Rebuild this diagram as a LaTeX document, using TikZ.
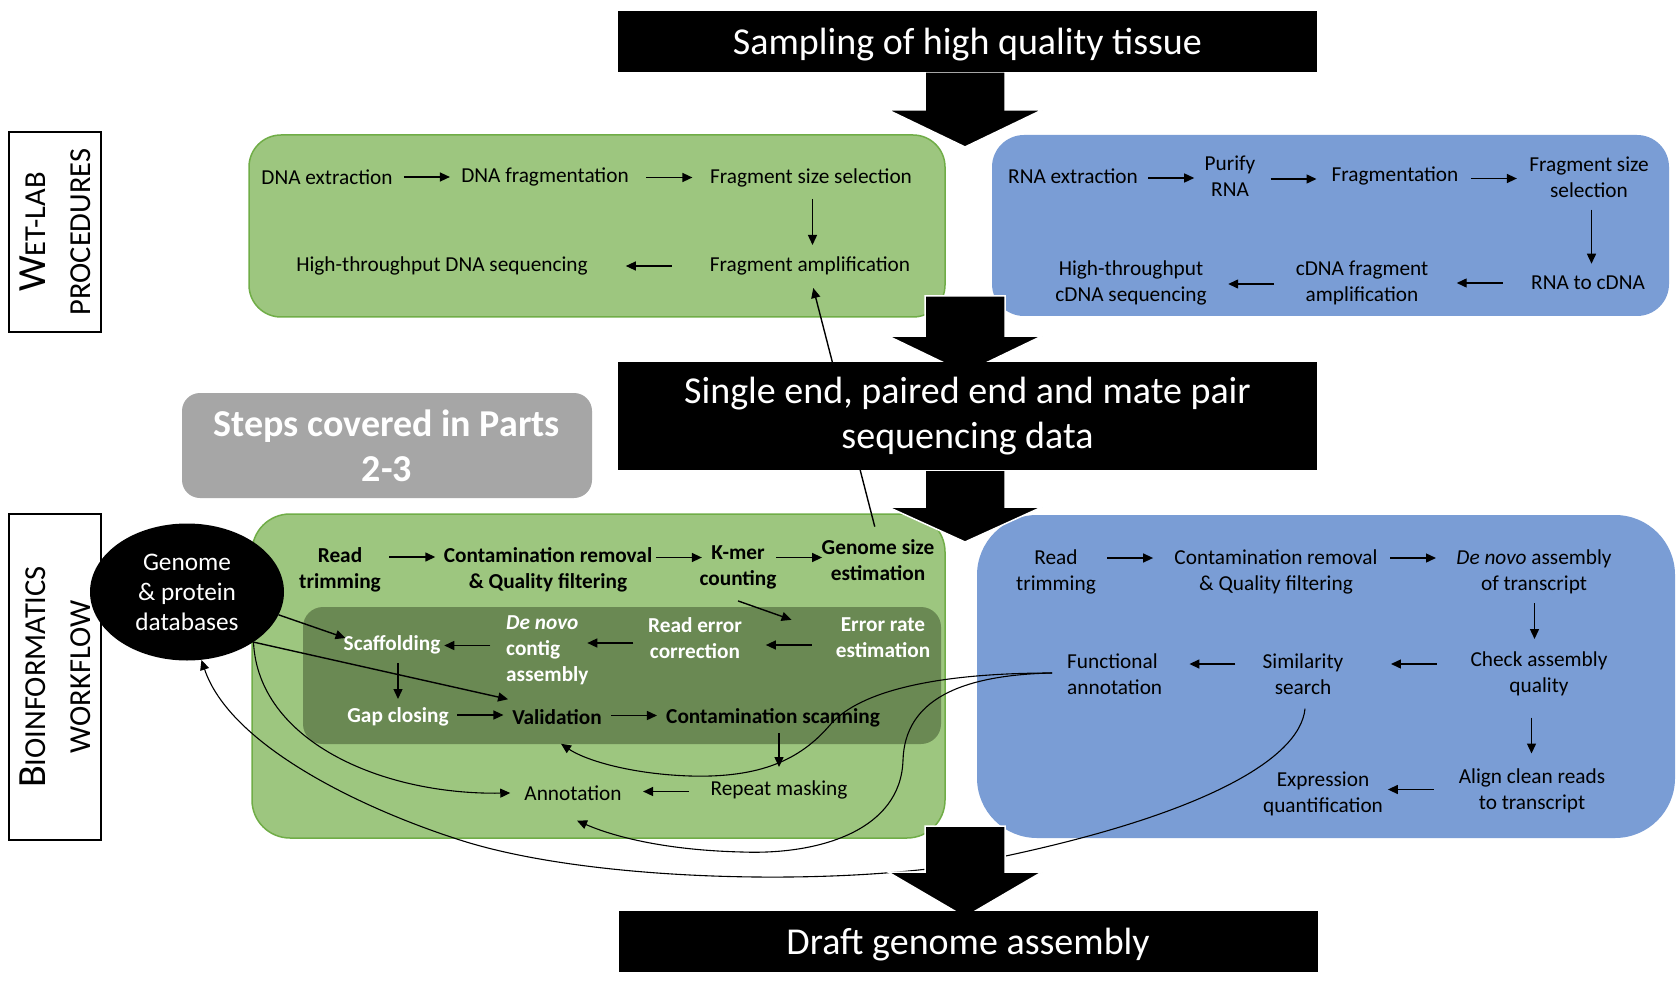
\documentclass[tikz,border=0pt]{standalone}
\usepackage{fontspec}
\setmainfont{Carlito}
\usetikzlibrary{calc,arrows.meta,shapes.geometric}
\definecolor{gfill}{RGB}{157,198,127}
\definecolor{gline}{RGB}{112,173,71}
\definecolor{bfill}{RGB}{122,157,213}
\definecolor{dgreen}{RGB}{106,137,83}
\definecolor{gbox}{RGB}{166,166,166}
\tikzset{
  txt/.style={inner sep=0pt, align=center, font=\fontsize{21.3}{26}\selectfont},
  btxt/.style={inner sep=0pt, align=center, font=\fontsize{21.3}{26}\selectfont\bfseries},
  wtxt/.style={btxt, text=white},
  arr/.style={-{Triangle[length=10pt,width=9pt]}, line width=1.4pt},
  crv/.style={line width=1.1pt},
  crva/.style={crv, -{Triangle[length=10pt,width=9pt]}},
  blk/.style={fill=black, text=white, minimum width=699pt, inner sep=0pt, align=center, font=\fontsize{38}{45}\selectfont},
  barrow/.style={fill=black, draw=white, line width=1.5pt},
  gpanel/.style={fill=gfill, draw=gline, line width=1.5pt},
  bpanel/.style={fill=bfill, draw=none},
  lbl/.style={draw=black, line width=1.5pt, minimum width=92pt, inner sep=0pt},
  lbltxt/.style={rotate=90, align=center, inner sep=0pt, font=\fontsize{30.5}{45}\selectfont},
}
\newcommand\myR[4]{\draw[arr] ($(#1.east)!.5!(#2.west)+(#3-23,#4)$) -- ++(46,0);}
\newcommand\myL[4]{\draw[arr] ($(#1.west)!.5!(#2.east)+(#3+23,#4)$) -- ++(-46,0);}
\newcommand\myD[5]{\draw[arr] ($(#1.south)!.5!(#2.north)+(#3,#4-#5)$) -- ++(0,2*#5);}
\newcommand\blockarrow[4]{\filldraw[barrow] (#1-40,#2) -- (#1+40,#2) -- (#1+40,#3) -- (#1+77,#3) -- (#1,#4) -- (#1-77,#3) -- (#1-40,#3) -- cycle;}
\begin{document}
\begin{tikzpicture}[x=1pt,y=-1pt]
\useasboundingbox (0,0) rectangle (1680,981);
\fill[white] (0,0) rectangle (1680,981);

% side labels
\node[lbl, minimum height=200pt] (L1) at (55,232) {};
\node[lbltxt] at (L1.center) {{\fontsize{40}{45}\selectfont W}ET-LAB\\PROCEDURES};
\node[lbl, minimum height=326pt] (L2) at (55,677) {};
\node[lbltxt] at (L2.center) {{\fontsize{40}{45}\selectfont B}IOINFORMATICS\\WORKFLOW};

% panels
\draw[gpanel, rounded corners=32pt] (249,135) rectangle (945,317);
\fill[bpanel, rounded corners=32pt] (992,135) rectangle (1669,316);
\draw[gpanel, rounded corners=38pt] (252,514) rectangle (945,838);
\fill[dgreen, rounded corners=20pt] (303,607) rectangle (941,744);
\fill[bpanel, rounded corners=60pt] (977,515) rectangle (1675,838);
\node[fill=gbox, rounded corners=18pt, minimum width=410pt, minimum height=105pt, inner sep=0pt, text=white, align=center, font=\fontsize{38}{45}\selectfont\bfseries] (steps) at (387,445.5) {Steps covered in Parts\\2-3};

% database ellipse
\node[ellipse, fill=black, minimum width=194pt, minimum height=137pt, inner sep=0pt, text=white, align=center, font=\fontsize{25.3}{30}\selectfont] (db) at (187,592) {Genome\\\& protein\\databases};

% top green
\node[txt] (n1) at (327,177) {DNA extraction};
\node[txt] (n2) at (545,177) {DNA fragmentation};
\node[txt] (n3) at (811,178) {Fragment size selection};
\node[txt] (n4) at (810,266) {Fragment amplification};
\node[txt] (n5) at (442,266) {High-throughput DNA sequencing};
\myR{n1}{n2}{0}{0}
\myR{n2}{n3}{0}{0}
\myD{n3}{n4}{2}{0}{23}
\myL{n4}{n5}{0}{0}

% top blue
\node[txt] (r1) at (1073,176) {RNA extraction};
\node[txt] (r2) at (1230,176) {Purify\\RNA};
\node[txt] (r3) at (1395,176) {Fragmentation};
\node[txt] (r4) at (1589,177) {Fragment size\\selection};
\node[txt] (r5) at (1588,283) {RNA to cDNA};
\node[txt] (r6) at (1362,283) {cDNA fragment\\amplification};
\node[txt] (r7) at (1131,283) {High-throughput\\cDNA sequencing};
\myR{r1}{r2}{0}{2}
\myR{r2}{r3}{0}{3}
\myR{r3}{r4}{0}{2}
\myD{r4}{r5}{3}{0}{27}
\myL{r5}{r6}{0}{0}
\myL{r6}{r7}{0}{1}

% bottom green
\node[btxt] (g1) at (340,570) {Read\\trimming};
\node[btxt] (g2) at (548,570) {Contamination removal\\\& Quality filtering};
\node[btxt] (g3) at (738,567) {K-mer\\counting};
\node[btxt] (g4) at (878,560) {Genome size\\estimation};
\myR{g1}{g2}{0}{-13}
\myR{g2}{g3}{3}{-11}
\myR{g3}{g4}{0}{-6}
\node[wtxt] (e1) at (883,638) {Error rate\\estimation};
\node[wtxt] (e2) at (695,638) {Read error\\correction};
\node[wtxt, align=left, anchor=west] (e3) at (506,650) {\textit{De novo}\\contig\\assembly};
\node[wtxt] (e4) at (392,645) {Scaffolding};
\node[wtxt] (e5) at (398,717) {Gap closing};
\node[btxt] (e6) at (557,717) {Validation};
\node[btxt] (e7) at (773,718) {Contamination scanning};
\node[txt] (e8) at (779,790) {Repeat masking};
\node[txt] (e9) at (573,793) {Annotation};
\draw[arr] ($(g3.south)+(0,12)$) -- ($(e1.north west)+(-44,2)$);
\myL{e1}{e2}{0}{7}
\myL{e2}{e3}{-8}{-1}
\myL{e3}{e4}{-6}{-2}
\myD{e4}{e5}{3}{0}{18}
\myR{e5}{e6}{0}{-2}
\myR{e6}{e7}{0}{-2}
\myD{e7}{e8}{3}{-4}{17}
\myL{e8}{e9}{0}{0}

% bottom blue
\node[txt] (b1) at (1056,572) {Read\\trimming};
\node[txt] (b2) at (1276,572) {Contamination removal\\\& Quality filtering};
\node[txt] (b3) at (1534,572) {\textit{De novo} assembly\\of transcript};
\node[txt] (b4) at (1539,674) {Check assembly\\quality};
\node[txt] (b5) at (1303,674) {Similarity\\search};
\node[txt, align=left, anchor=west] (b6) at (1067,674) {Functional\\annotation};
\node[txt] (b7) at (1532,791) {Align clean reads\\to transcript};
\node[txt] (b8) at (1323,794) {Expression\\quantification};
\myR{b1}{b2}{-5}{-14}
\myR{b2}{b3}{-4}{-14}
\myD{b3}{b4}{-2}{-2}{18}
\myL{b4}{b5}{7}{-10}
\myL{b5}{b6}{0}{-10}
\myD{b4}{b7}{-4}{3}{18}
\myL{b7}{b8}{-10}{-3}

% database links
\draw[arr] (db.-14) -- ($(e4.west)+(2,-7)$);
\draw[arr] (db.-37) -- ($(e6.north west)+(-4,-10)$);
\draw[crva] (db.-37) .. controls (258,740) and (380,795) .. ($(e9.west)+(-14,0)$);
\draw[crva] ($(b5.south)+(2,14)$) .. controls (1300,760) and (1200,815) .. (1001,857)
   .. controls (870,887) and (600,885) .. (460,840)
   .. controls (360,808) and (230,745) .. (db.-78);
\draw[crva] ($(b6.west)+(-15,-1)$) .. controls (940,673) and (860,690) .. (830,725)
   .. controls (800,760) and (760,778) .. (690,776)
   .. controls (630,774) and (585,760) .. ($(e6.south)+(4,19)$);
\draw[crva] ($(b6.west)+(-15,-1)$) .. controls (960,675) and (905,700) .. (903,760)
   .. controls (901,830) and (820,855) .. (742,852)
   .. controls (660,850) and (610,835) .. ($(e9.south)+(4,20)$);
\draw[arr, shorten <=13pt, shorten >=13pt] (g4.north) -- (n4.south);

% block arrows
\blockarrow{965}{72}{110}{147}
\blockarrow{965}{296}{336}{373}
\blockarrow{965}{470}{507}{542}
\blockarrow{965}{826}{872}{917}

% black title boxes
\node[blk, minimum height=61pt, text depth=0pt] (T1) at (967.5,41.5) {Sampling of high quality tissue};
\node[blk, minimum height=108pt] (T2) at (967.5,416) {Single end, paired end and mate pair\\sequencing data};
\node[blk, minimum height=61pt, text depth=0pt] (T3) at (968,941.5) {Draft genome assembly};
\end{tikzpicture}
\end{document}
